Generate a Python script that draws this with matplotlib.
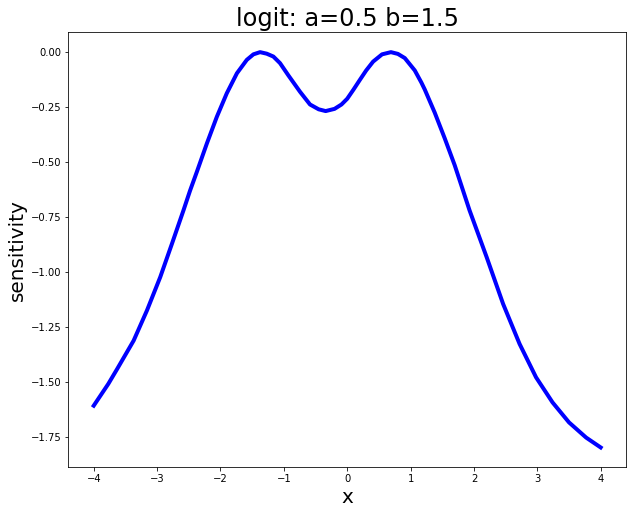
import matplotlib
matplotlib.use("Agg")
from matplotlib import pyplot as plt

# points
x_vals = [-4.0, -3.77, -3.63, -3.37, -3.16, -2.95, -2.765, -2.583, -2.48, -2.372,
          -2.214, -2.057, -1.90, -1.74, -1.584, -1.48, -1.375, -1.27, -1.165, -1.06,
          -0.93, -0.745, -0.587, -0.45, -0.34, -0.20, -0.09, 0.0, 0.10, 0.20,
          0.30, 0.409, 0.55, 0.69, 0.80, 0.909, 1.066, 1.17, 1.224, 1.381,
          1.539, 1.696, 1.80, 1.93, 2.20, 2.46, 2.72, 2.98, 3.24, 3.50,
          3.77, 4.0]
sens_vals = [-1.608, -1.509, -1.441, -1.312, -1.175, -1.023, -0.871, -0.719, -0.630, -0.544,
             -0.415, -0.294, -0.187, -0.096, -0.035, -0.010, 0.0, -0.007, -0.020, -0.050,
             -0.105, -0.180, -0.238, -0.260, -0.268, -0.258, -0.238, -0.212, -0.170, -0.126,
             -0.083, -0.043, -0.010, 0.0, -0.008, -0.027, -0.083, -0.138, -0.170, -0.275,
             -0.392, -0.514, -0.605, -0.719, -0.932, -1.145, -1.327, -1.479, -1.593, -1.684,
             -1.753, -1.798]

title = "logit: a=0.5 b=1.5"

dpi = 72
fig = plt.figure(figsize=(633 / dpi, 514 / dpi), dpi=dpi)
ax = fig.add_axes([0.108, 0.091, 0.881, 0.846])

ax.plot(x_vals, sens_vals, color="blue", linewidth=4)
ax.set_title(title, fontsize=24)
ax.set_xlabel("x", fontsize=20)
ax.set_ylabel("sensitivity", fontsize=20)
ax.tick_params(labelsize=10)

fig.savefig("out.png", dpi=dpi)
